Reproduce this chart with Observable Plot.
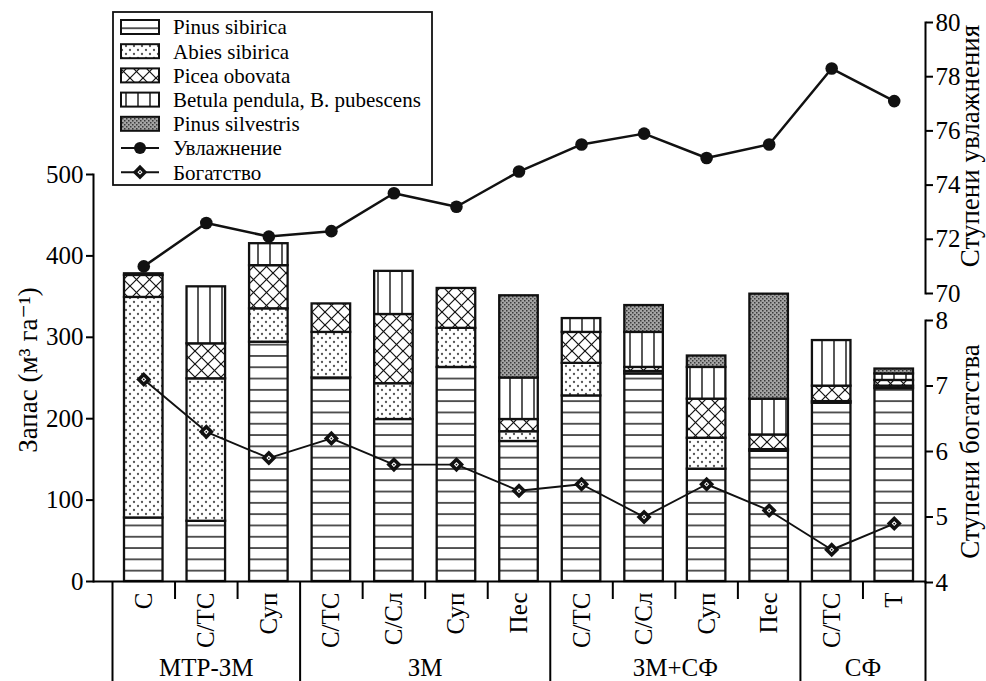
<!DOCTYPE html>
<html><head><meta charset="utf-8">
<script src="https://cdn.jsdelivr.net/npm/d3@7"></script>
<script src="https://cdn.jsdelivr.net/npm/@observablehq/plot@0.6"></script>
<style>
body{margin:0;background:#fff;font-family:"Liberation Serif","DejaVu Serif",serif;}
#chart{position:relative;width:986px;height:681px;}
#chart svg{position:absolute;left:0;top:0;}
#chart svg text{font-family:"Liberation Serif","DejaVu Serif",serif !important;}
</style></head><body>
<svg width="0" height="0" style="position:absolute">
<defs>
 <pattern id="pSib" patternUnits="userSpaceOnUse" width="10" height="11.3">
  <rect width="10" height="11.3" fill="#fff"/>
  <line x1="0" x2="10" y1="5.65" y2="5.65" stroke="#111" stroke-width="1.4"/>
 </pattern>
 <pattern id="pAbies" patternUnits="userSpaceOnUse" width="8" height="8">
  <rect width="8" height="8" fill="#fff"/>
  <circle cx="2" cy="2" r="1.15" fill="#555"/>
  <circle cx="6" cy="6" r="1.15" fill="#555"/>
 </pattern>
 <pattern id="pPicea" patternUnits="userSpaceOnUse" width="13" height="13">
  <rect width="13" height="13" fill="#fff"/>
  <line x1="0" y1="0" x2="13" y2="13" stroke="#111" stroke-width="1.2"/>
  <line x1="13" y1="0" x2="0" y2="13" stroke="#111" stroke-width="1.2"/>
 </pattern>
 <pattern id="pBetula" patternUnits="userSpaceOnUse" width="12" height="10">
  <rect width="12" height="10" fill="#fff"/>
  <line x1="6" x2="6" y1="0" y2="10" stroke="#111" stroke-width="1.4"/>
 </pattern>
 <pattern id="pSilv" patternUnits="userSpaceOnUse" width="4" height="4">
  <rect width="4" height="4" fill="#a4a4a4"/>
  <rect x="0" y="0" width="1.5" height="1.5" fill="#3a3a3a"/>
  <rect x="2" y="2" width="1.5" height="1.5" fill="#3a3a3a"/>
 </pattern>
</defs></svg>
<div id="chart"></div>
<script>
// ---------- data ----------
const groups = ["МТР-ЗМ", "ЗМ", "ЗМ+СФ", "СФ"];
const groupOf = [0, 0, 0, 1, 1, 1, 1, 2, 2, 2, 2, 3, 3];
const sites = ["С", "С/ТС", "Суп", "С/ТС", "С/Сл", "Суп", "Пес", "С/ТС", "С/Сл", "Суп", "Пес", "С/ТС", "Т"];
const species = ["Pinus sibirica", "Abies sibirica", "Picea obovata", "Betula pendula, B. pubescens", "Pinus silvestris"];
const pinusSibirica   = [78, 74, 294, 250, 199, 263, 172, 228, 255, 138, 160, 219, 237];
const abiesSibirica   = [271, 175, 41, 56, 44, 48, 12, 40, 3, 38, 2, 2, 3];
const piceaObovata    = [27, 43, 53, 35, 85, 49, 15, 38, 5, 48, 18, 19, 7];
const betula          = [2, 70, 27, 0, 53, 0, 51, 17, 43, 39, 44, 56, 8];
const pinusSilvestris = [0, 0, 0, 0, 0, 0, 101, 0, 33, 14, 129, 0, 6];
const moisture = [71.0, 72.6, 72.1, 72.3, 73.7, 73.2, 74.5, 75.5, 75.9, 75.0, 75.5, 78.3, 77.1];
const richness = [7.1, 6.3, 5.9, 6.2, 5.8, 5.8, 5.4, 5.5, 5.0, 5.5, 5.1, 4.5, 4.9];
const stockTicks = [0, 100, 200, 300, 400, 500];
const moistTicks = [70, 72, 74, 76, 78, 80];
const richTicks = [4, 5, 6, 7, 8];
const lineNames = ["Увлажнение", "Богатство"];
const titleLeft = "Запас (м³ га⁻¹)";
const titleMoist = "Ступени увлажнения";
const titleRich = "Ступени богатства";

// ---------- build ----------
const seriesValues = [pinusSibirica, abiesSibirica, piceaObovata, betula, pinusSilvestris];
const patterns = ["url(#pSib)", "url(#pAbies)", "url(#pPicea)", "url(#pBetula)", "url(#pSilv)"];
const idx = d3.range(sites.length);
const stackData = [];
species.forEach((s, k) => seriesValues[k].forEach((v, i) => { if (v > 0) stackData.push({i, species: s, value: v}); }));
const innerBounds = idx.slice(1).filter(i => groupOf[i] === groupOf[i - 1]);
const groupBounds = [0, ...idx.slice(1).filter(i => groupOf[i] !== groupOf[i - 1]), sites.length];
const groupCenters = groups.map((g, k) => d3.mean(idx.filter(i => groupOf[i] === k)) + 0.5);

const W = 986, H = 681;
const font = '"Liberation Serif", "DejaVu Serif", serif';
const FS = 25, TFS = 27;
const fmt = d3.format("d");
const xScale = {domain: [0, sites.length], range: [112, 925], axis: null};
const baseStyle = {fontFamily: font, fontSize: FS + "px", color: "black", background: "transparent", overflow: "visible"};

const main = Plot.plot({
  width: W, height: H,
  marginTop: 174, marginBottom: H - 581, marginLeft: 93, marginRight: W - 925,
  x: xScale,
  y: {domain: [0, 500], range: [581, 174]},
  color: {domain: species, range: patterns},
  style: baseStyle,
  marks: [
    Plot.rectY(stackData, {x1: d => d.i, x2: d => d.i + 1, y: "value", fill: "species",
      insetLeft: 12, insetRight: 12, stroke: "#111", strokeWidth: 2.3}),
    Plot.frame({anchor: "left", strokeWidth: 2}),
    Plot.ruleY([0], {strokeWidth: 2}),
    Plot.axisY({anchor: "left", ticks: stockTicks, tickFormat: fmt, tickSize: 7, tickPadding: 3, strokeWidth: 2, fontSize: FS, label: null}),
    Plot.text([titleLeft], {frameAnchor: "left", textAnchor: "middle", rotate: -90, dx: -65, dy: -8, fontSize: TFS}),
    Plot.ruleX(innerBounds, {x: d => d, y1: 0, y2: 0, insetBottom: -18, strokeWidth: 2}),
    Plot.ruleX(groupBounds, {x: d => d, y1: 0, y2: 0, insetBottom: -100, strokeWidth: 2}),
    Plot.text(idx, {x: i => i + 0.5, y: 0, text: i => sites[i], rotate: -90, textAnchor: "end", lineAnchor: "middle", dy: 11, fontSize: FS}),
    Plot.text(groups, {x: (g, k) => groupCenters[k], y: 0, text: d => d, dy: 86, fontSize: FS})
  ]
});

const moistPlot = Plot.plot({
  width: W, height: H,
  marginTop: 22, marginBottom: H - 293, marginLeft: 93, marginRight: W - 925,
  x: xScale,
  y: {domain: [70, 80], range: [293, 22]},
  style: baseStyle,
  marks: [
    Plot.frame({anchor: "right", strokeWidth: 2}),
    Plot.axisY({anchor: "right", ticks: moistTicks, tickFormat: fmt, tickSize: 7, tickPadding: 3, strokeWidth: 2, fontSize: FS, label: null}),
    Plot.text([titleMoist], {frameAnchor: "right", textAnchor: "middle", rotate: -90, dx: 45, dy: -12, fontSize: TFS}),
    Plot.line(idx, {x: i => i + 0.5, y: i => moisture[i], stroke: "#111", strokeWidth: 2.5}),
    Plot.dot(idx, {x: i => i + 0.5, y: i => moisture[i], r: 6.3, fill: "#111", stroke: "none"})
  ]
});

const richPlot = Plot.plot({
  width: W, height: H,
  marginTop: 320, marginBottom: H - 582, marginLeft: 93, marginRight: W - 925,
  x: xScale,
  y: {domain: [4, 8], range: [582, 320]},
  style: baseStyle,
  marks: [
    Plot.frame({anchor: "right", strokeWidth: 2}),
    Plot.axisY({anchor: "right", ticks: richTicks, tickFormat: fmt, tickSize: 7, tickPadding: 3, strokeWidth: 2, fontSize: FS, label: null}),
    Plot.text([titleRich], {frameAnchor: "right", textAnchor: "middle", rotate: -90, dx: 45, fontSize: TFS}),
    Plot.line(idx, {x: i => i + 0.5, y: i => richness[i], stroke: "#111", strokeWidth: 1.9}),
    Plot.dot(idx, {x: i => i + 0.5, y: i => richness[i], symbol: "diamond2", r: 6.8, fill: "#111", stroke: "none"}),
    Plot.dot(idx, {x: i => i + 0.5, y: i => richness[i], symbol: "diamond2", r: 2.3, fill: "#fff", stroke: "none"}),
    Plot.dot(idx, {x: i => i + 0.5, y: i => richness[i], r: 0.9, fill: "#111", stroke: "none"})
  ]
});

const chart = document.getElementById("chart");
chart.append(main, moistPlot, richPlot);

// ---------- legend ----------
const leg = d3.select(chart).append("svg").attr("width", W).attr("height", H)
  .style("font-family", font).style("font-size", "21px");
leg.append("rect").attr("x", 113).attr("y", 12).attr("width", 319).attr("height", 173)
  .attr("fill", "#fff").attr("stroke", "#111").attr("stroke-width", 1.8);
const rowY = k => 27 + k * 24.2;
species.forEach((s, k) => {
  leg.append("rect").attr("x", 121).attr("y", rowY(k) - 7).attr("width", 38).attr("height", 14)
    .attr("fill", patterns[k]).attr("stroke", "#111").attr("stroke-width", 2);
  leg.append("text").attr("x", 173).attr("y", rowY(k)).attr("dy", "0.35em").text(s);
});
lineNames.forEach((s, j) => {
  const y = rowY(species.length + j);
  leg.append("line").attr("x1", 121).attr("x2", 159).attr("y1", y).attr("y2", y).attr("stroke", "#111").attr("stroke-width", 2);
  if (j === 0) {
    leg.append("circle").attr("cx", 140).attr("cy", y).attr("r", 6).attr("fill", "#111");
  } else {
    leg.append("path").attr("transform", `translate(140,${y})`).attr("d", d3.symbol(d3.symbolDiamond2, 6.6 * 6.6 * Math.PI)()).attr("fill", "#111");
    leg.append("path").attr("transform", `translate(140,${y})`).attr("d", d3.symbol(d3.symbolDiamond2, 2.3 * 2.3 * Math.PI)()).attr("fill", "#fff");
    leg.append("circle").attr("cx", 140).attr("cy", y).attr("r", 0.9).attr("fill", "#111");
  }
  leg.append("text").attr("x", 173).attr("y", y).attr("dy", "0.35em").text(s);
});
</script>
</body></html>
